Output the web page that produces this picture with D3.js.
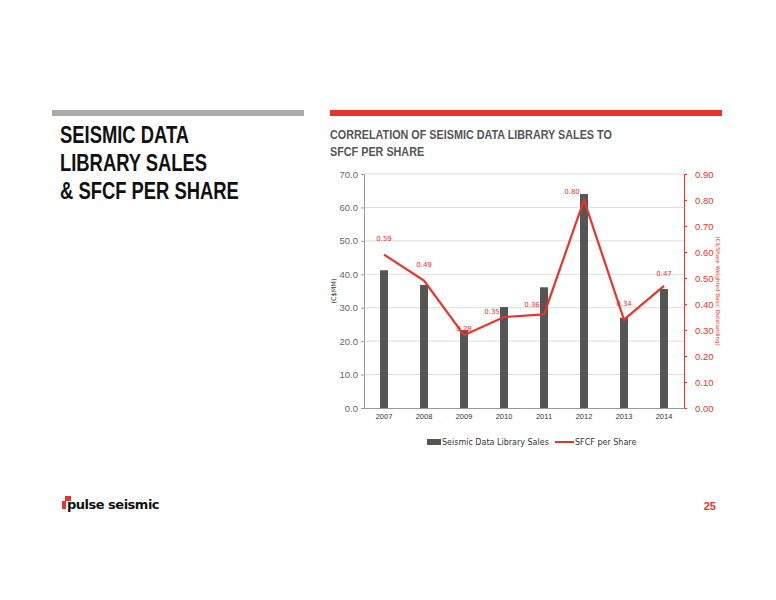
<!DOCTYPE html>
<html><head><meta charset="utf-8">
<script src="https://cdn.jsdelivr.net/npm/d3@7"></script>
<style>body{margin:0;background:#fff}</style></head>
<body><svg id="c" width="776" height="600"></svg>
<script>
const years=["2007","2008","2009","2010","2011","2012","2013","2014"];
const sales=[41.2,36.8,23.3,30.2,36.1,64.0,27.0,35.6];
const sfcf=[0.59,0.49,0.28,0.35,0.36,0.80,0.34,0.47];
const leftTicks=[0,10,20,30,40,50,60,70];
const rightTicks=[0,0.1,0.2,0.3,0.4,0.5,0.6,0.7,0.8,0.9];
const svg=d3.select("#c");
const red="#e8342a";
svg.append("rect").attr("x",52).attr("y",110).attr("width",252).attr("height",6).attr("fill","#aaa");
svg.append("rect").attr("x",330).attr("y",110).attr("width",392).attr("height",6).attr("fill",red);
const tt=svg.append("text").attr("transform","translate(60,0) scale(0.8,1)").attr("font-family","Liberation Sans").attr("font-weight","bold").attr("font-size",23).attr("fill","#111");
["SEISMIC DATA","LIBRARY SALES","& SFCF PER SHARE"].forEach((t,i)=>tt.append("tspan").attr("x",0).attr("y",143+i*28).text(t));
const st=svg.append("text").attr("transform","translate(330,0) scale(0.8,1)").attr("font-family","Liberation Sans").attr("font-weight","bold").attr("font-size",13.5).attr("fill","#555");
["CORRELATION OF SEISMIC DATA LIBRARY SALES TO","SFCF PER SHARE"].forEach((t,i)=>st.append("tspan").attr("x",0).attr("y",139+i*17).text(t));
const x=d3.scaleBand().domain(years).range([364,684]);
const y=d3.scaleLinear().domain([0,70]).range([408,174]);
const y2=d3.scaleLinear().domain([0,0.9]).range([408,174]);
const g=svg.append("g").attr("font-family","DejaVu Sans");
g.selectAll(".gl").data(leftTicks.slice(1)).join("line").attr("x1",364).attr("x2",684).attr("y1",d=>y(d)).attr("y2",d=>y(d)).attr("stroke","#ddd");
const la=g.append("g").attr("transform","translate(364,0)").call(d3.axisLeft(y).tickValues(leftTicks).tickFormat(d3.format(".1f")).tickSize(3));
la.selectAll("text").attr("fill","#666").attr("font-size",9.5);la.selectAll("line,path").attr("stroke","#999");
const ra=g.append("g").attr("transform","translate(684,0)").call(d3.axisRight(y2).tickValues(rightTicks).tickFormat(d3.format(".2f")).tickSize(3));
ra.selectAll("text").attr("fill",red).attr("font-size",9.5).attr("dx",5);ra.selectAll("line,path").attr("stroke",red);
const xa=g.append("g").attr("transform","translate(0,408)").call(d3.axisBottom(x).tickSize(0));
xa.selectAll("text").attr("fill","#333").attr("font-size",7.5).attr("dy",8);xa.select("path").attr("stroke","#999");
g.selectAll(".b").data(years).join("rect").attr("x",d=>x(d)+x.bandwidth()/2-4).attr("width",8).attr("y",(d,i)=>y(sales[i])).attr("height",(d,i)=>408-y(sales[i])).attr("fill","#555");
const line=d3.line().x((d,i)=>x(years[i])+x.bandwidth()/2).y(d=>y2(d));
g.append("path").datum(sfcf).attr("d",line).attr("fill","none").attr("stroke",red).attr("stroke-width",2.2);
const dx=[0,0,0,-12,-12,-12,0,0], dy=[-14,-14,-4,-3,-7,-6,-14,-10];
g.selectAll(".l").data(sfcf).join("text").attr("x",(d,i)=>x(years[i])+x.bandwidth()/2+dx[i]).attr("y",(d,i)=>y2(d)+dy[i]).attr("text-anchor","middle").attr("font-size",7).attr("fill",red).text(d=>d.toFixed(2));
g.append("text").attr("transform","translate(336,291) rotate(-90)").attr("text-anchor","middle").attr("font-size",6.5).attr("fill","#333").text("(C$MM)");
g.append("text").attr("transform","translate(716,291) rotate(90)").attr("text-anchor","middle").attr("font-size",5.5).attr("fill",red).text("(C$/Share Weighted Basic Outstanding)");
g.append("rect").attr("x",427).attr("y",439).attr("width",14).attr("height",6).attr("fill","#555");
g.append("text").attr("x",442).attr("y",445).attr("font-size",8).attr("fill","#333").text("Seismic Data Library Sales");
g.append("line").attr("x1",555).attr("x2",574).attr("y1",442).attr("y2",442).attr("stroke",red).attr("stroke-width",2);
g.append("text").attr("x",575).attr("y",445).attr("font-size",8).attr("fill","#333").text("SFCF per Share");
svg.append("rect").attr("x",65).attr("y",496).attr("width",6).attr("height",5).attr("fill",red);
svg.append("rect").attr("x",62).attr("y",501).attr("width",4).attr("height",8).attr("fill",red);
svg.append("text").attr("x",67).attr("y",509).attr("font-family","DejaVu Sans").attr("font-weight","bold").attr("font-size",13).attr("fill","#111").attr("letter-spacing",-0.5).text("pulse seismic");
svg.append("text").attr("x",716).attr("y",510).attr("text-anchor","end").attr("font-family","Liberation Sans").attr("font-weight","bold").attr("font-size",11).attr("fill",red).text("25");
</script></body></html>
